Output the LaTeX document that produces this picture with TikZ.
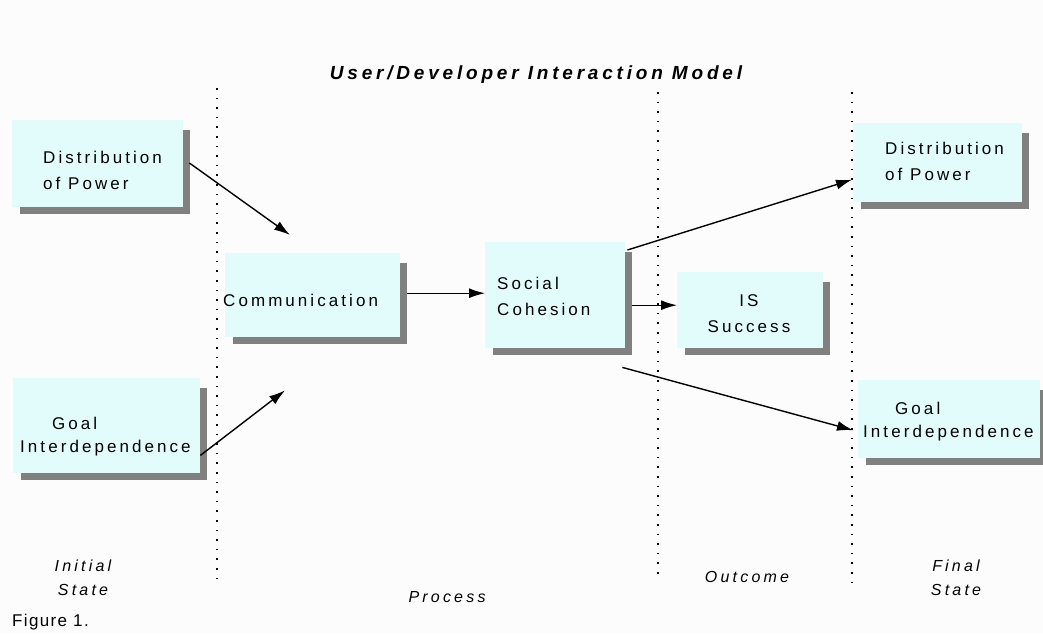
\documentclass[tikz,border=0pt]{standalone}
\usepackage{fontspec}
\setmainfont{Liberation Sans}
\newfontfamily\boxfont[LetterSpace=18]{Liberation Sans}
\newfontfamily\labfont[LetterSpace=20]{Liberation Sans}
\newfontfamily\titfont[LetterSpace=20]{Liberation Sans}
\newfontfamily\figfont[LetterSpace=8]{Liberation Sans}
\usetikzlibrary{arrows.meta}
\definecolor{boxfill}{RGB}{226,252,252}
\definecolor{shadowgray}{RGB}{128,128,128}
\definecolor{bg}{RGB}{252,252,252}
\tikzset{
  box/.style={draw=none, fill=boxfill, inner sep=0pt, anchor=north west},
  boxtext/.style={font=\boxfont\fontsize{17}{26}\selectfont, align=left, inner sep=0pt},
  lab/.style={font=\labfont\itshape\fontsize{16}{24}\selectfont, align=center, inner sep=0pt},
  arr/.style={line width=1.4pt, -{Latex[length=16pt,width=10pt]}},
  divider/.style={line width=1.6pt, dash pattern=on 1.6pt off 8pt}
}
\newcommand{\shbox}[5]{% name, x1, y1, x2, y2
  \fill[shadowgray] (#2+8,#3+10) rectangle (#4+7,#5+7);
  \node[box, minimum width=#4-#2, minimum height=#5-#3] (#1) at (#2,#3) {};
}
\begin{document}
\begin{tikzpicture}[x=1pt,y=-1pt]
\fill[bg] (0,0) rectangle (1043,633);
\useasboundingbox (0,0) rectangle (1043,633);

% title
\node[font=\titfont\bfseries\itshape\fontsize{19}{22}\selectfont] (title) at (536,75) {User/Developer Interaction Model};

% dividers
\draw[divider] (217,88) -- (217,585);
\draw[divider] (658,92) -- (658,575);
\draw[divider] (852,92) -- (852,582);

% boxes
\shbox{dopL}{12}{120}{183}{207}
\shbox{goalL}{13}{378}{200}{473}
\shbox{comm}{225}{253}{400}{337}
\shbox{soc}{485}{242}{625}{348}
\shbox{iss}{677}{272}{823}{348}
\shbox{dopR}{853}{123}{1022}{202}
\shbox{goalR}{858}{380}{1040}{458}

% box texts
\node[boxtext, anchor=west] (tdopL) at (43,170) {Distribution\\of Power};
\node[boxtext, anchor=west] (tgoalL1) at (52,423) {Goal};
\node[boxtext, anchor=west] (tgoalL2) at (20,448) {Interdependence};
\node[boxtext, anchor=west] (tcomm) at (223,300) {Communication};
\node[boxtext, anchor=west] (tsoc) at (497,296) {Social\\Cohesion};
\node[boxtext, align=center] (tiss) at (749,314) {IS\\Success};
\node[boxtext, anchor=west] (tdopR) at (885,161) {Distribution\\of Power};
\node[boxtext, anchor=west] (tgoalR1) at (895,408) {Goal};
\node[boxtext, anchor=west] (tgoalR2) at (863,433) {Interdependence};

% arrows
\draw[arr] ([shift={(6,43)}]dopL.north east) -- ([shift={(65,-18)}]comm.north west);
\draw[arr] ([shift={(0,-18)}]goalL.south east) -- ([shift={(60,53)}]comm.south west);
\draw[arr] ([shift={(7,-2)}]comm.east) -- ([shift={(0,-2)}]soc.west);
\draw[arr] ([shift={(7,10)}]soc.east) -- ([shift={(0,-5)}]iss.west);
\draw[arr] ([shift={(2,8)}]soc.north east) -- ([shift={(-1,17)}]dopR.west);
\draw[arr] ([shift={(-3,19)}]soc.south east) -- ([shift={(-5,11)}]goalR.west);

% bottom labels
\node[lab] (linit) at (83,578) {Initial\\State};
\node[lab] (lproc) at (447,597) {Process};
\node[lab] (lout) at (747,577) {Outcome};
\node[lab] (lfin) at (956,578) {Final\\State};
\node[font=\figfont\fontsize{17}{22}\selectfont, anchor=west, inner sep=0pt] (fig) at (12,622) {Figure 1.};
\end{tikzpicture}
\end{document}
